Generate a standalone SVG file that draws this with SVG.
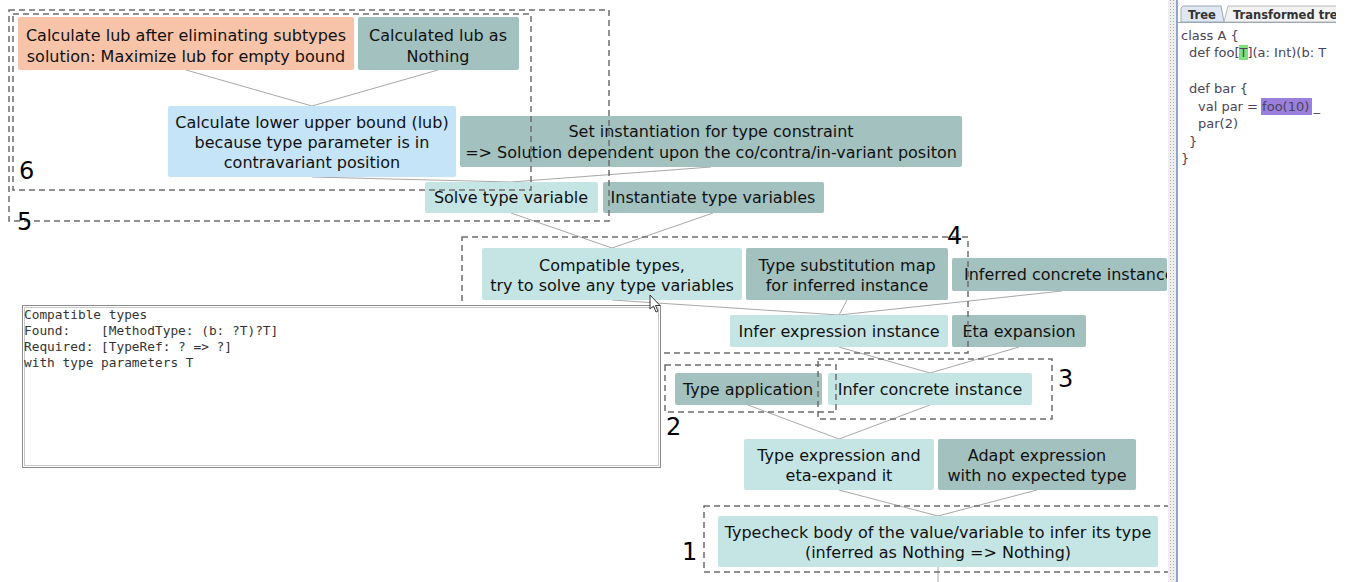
<svg xmlns="http://www.w3.org/2000/svg" width="1347" height="582" viewBox="0 0 1347 582">
  <style>
    .n text { font-family: "DejaVu Sans", Verdana, sans-serif; font-size: 16px; fill: #111; text-anchor: middle; }
    .hi { fill: #A3C1BF; }
    .lt { fill: #C5E5E4; }
    .lb { fill: #C6E4F8; }
    .sa { fill: #F7C4A9; }
    .edge { stroke: #a8a8a8; stroke-width: 1; fill: none; }
    .grp { stroke: #6e6e6e; stroke-width: 1.5; stroke-dasharray: 6 4; fill: none; }
    .num { font-family: "DejaVu Sans", sans-serif; font-size: 24px; fill: #000; }
    .mono { font-family: "DejaVu Sans Mono", "Liberation Mono", monospace; font-size: 12.8px; fill: #333; }
    .code { font-family: "DejaVu Sans", sans-serif; font-size: 13px; fill: #4a4458; }
  </style>
  <defs>
    <clipPath id="treeClip"><rect x="0" y="0" width="1167" height="582"/></clipPath>
    <clipPath id="panelClip"><rect x="1168" y="0" width="168" height="582"/></clipPath>
  </defs>

  <rect width="1347" height="582" fill="#ffffff"/>

  <!-- connectors: child bottom-centre to parent top-centre -->
  <g id="connectors">
    <path class="edge" d="M186 70 L312 106 M438 70 L312 106"/>
    <path class="edge" d="M312 177 L511 182 M711 167 L511 182"/>
    <path class="edge" d="M511 213 L612 248 M713 213 L612 248"/>
    <path class="edge" d="M612 300 L839 315 M847 300 L839 315 M1062 291 L839 315"/>
    <path class="edge" d="M839 347 L930 373 M1019 347 L930 373"/>
    <path class="edge" d="M748 405 L839 439 M930 405 L839 439"/>
    <path class="edge" d="M839 490 L938 516 M1037 490 L938 516"/>
    <path class="edge" d="M938 567 L938 582"/>
  </g>

  <g clip-path="url(#treeClip)">
    <g id="n-lub-elim" class="n">
      <rect class="sa" x="18" y="17" width="336" height="53" rx="2"/>
      <text x="186" y="41">Calculate lub after eliminating subtypes</text>
      <text x="186" y="62">solution: Maximize lub for empty bound</text>
    </g>
    <g id="n-lub-nothing" class="n">
      <rect class="hi" x="358" y="17" width="161" height="53" rx="2"/>
      <text x="438" y="41">Calculated lub as</text>
      <text x="438" y="62">Nothing</text>
    </g>
    <g id="n-lub" class="n">
      <rect class="lb" x="168" y="106" width="288" height="71" rx="2"/>
      <text x="312" y="128">Calculate lower upper bound (lub)</text>
      <text x="312" y="148">because type parameter is in</text>
      <text x="312" y="168">contravariant position</text>
    </g>
    <g id="n-set-inst" class="n">
      <rect class="hi" x="460" y="116" width="502" height="51" rx="2"/>
      <text x="711" y="137">Set instantiation for type constraint</text>
      <text x="711" y="158"> =&gt; Solution dependent upon the co/contra/in-variant positon</text>
    </g>
    <g id="n-solve" class="n">
      <rect class="lt" x="425" y="182" width="173" height="31" rx="2"/>
      <text x="511" y="203">Solve type variable</text>
    </g>
    <g id="n-instantiate" class="n">
      <rect class="hi" x="603" y="182" width="221" height="31" rx="2"/>
      <text x="713" y="203">Instantiate type variables</text>
    </g>
    <g id="n-compatible" class="n">
      <rect class="lt" x="482" y="248" width="260" height="52" rx="2"/>
      <text x="612" y="271">Compatible types,</text>
      <text x="612" y="291">try to solve any type variables</text>
    </g>
    <g id="n-subst" class="n">
      <rect class="hi" x="746" y="248" width="202" height="52" rx="2"/>
      <text x="847" y="271">Type substitution map</text>
      <text x="847" y="291">for inferred instance</text>
    </g>
    <g id="n-inferred-concrete" class="n">
      <rect class="hi" x="952" y="258" width="215" height="33" rx="2"/>
      <text x="964" y="280" style="text-anchor:start">Inferred concrete instance</text>
    </g>
    <g id="n-infer-expr" class="n">
      <rect class="lt" x="730" y="315" width="218" height="32" rx="2"/>
      <text x="839" y="337">Infer expression instance</text>
    </g>
    <g id="n-eta" class="n">
      <rect class="hi" x="952" y="315" width="134" height="32" rx="2"/>
      <text x="1019" y="337">Eta expansion</text>
    </g>
    <g id="n-type-app" class="n">
      <rect class="hi" x="675" y="373" width="147" height="32" rx="2"/>
      <text x="748" y="395">Type application</text>
    </g>
    <g id="n-infer-concrete" class="n">
      <rect class="lt" x="828" y="373" width="204" height="32" rx="2"/>
      <text x="930" y="395">Infer concrete instance</text>
    </g>
    <g id="n-type-expr" class="n">
      <rect class="lt" x="744" y="439" width="190" height="51" rx="2"/>
      <text x="839" y="461">Type expression and</text>
      <text x="839" y="481">eta-expand it</text>
    </g>
    <g id="n-adapt" class="n">
      <rect class="hi" x="938" y="439" width="198" height="51" rx="2"/>
      <text x="1037" y="461">Adapt expression</text>
      <text x="1037" y="481">with no expected type</text>
    </g>
    <g id="n-typecheck" class="n">
      <rect class="lt" x="718" y="516" width="440" height="51" rx="2"/>
      <text x="938" y="538">Typecheck body of the value/variable to infer its type</text>
      <text x="938" y="558">(inferred as Nothing =&gt; Nothing)</text>
    </g>
  </g>

  <!-- numbered phase outlines -->
  <g id="phases">
    <rect class="grp" x="9" y="10" width="600" height="211"/>
    <rect class="grp" x="13" y="14" width="518" height="176"/>
    <rect class="grp" x="462" y="237" width="506" height="116"/>
    <rect class="grp" x="818" y="359" width="234" height="60"/>
    <rect class="grp" x="665" y="365" width="171" height="47"/>
    <rect class="grp" x="704" y="506" width="470" height="66"/>
    <text class="num" x="19" y="179">6</text>
    <text class="num" x="17" y="230">5</text>
    <text class="num" x="947" y="244">4</text>
    <text class="num" x="1058" y="387">3</text>
    <text class="num" x="666" y="435">2</text>
    <text class="num" x="682" y="560">1</text>
  </g>

  <!-- message panel -->
  <g id="message">
    <rect x="22.5" y="305.5" width="638" height="162" fill="#fff" stroke="#8a8a8a" stroke-width="1"/>
    <rect x="24.5" y="307.5" width="634" height="158" fill="none" stroke="#c8c8c8" stroke-width="1"/>
    <text class="mono" x="24" y="319">Compatible types</text>
    <text class="mono" x="24" y="335" xml:space="preserve">Found:    [MethodType: (b: ?T)?T]</text>
    <text class="mono" x="24" y="351">Required: [TypeRef: ? =&gt; ?]</text>
    <text class="mono" x="24" y="367">with type parameters T</text>
  </g>

  <!-- pointer -->
  <path d="M650 295 L650 309 L653.5 306 L656 312 L658 311 L655.5 305.5 L660 305.5 Z" fill="#fff" stroke="#333" stroke-width="1"/>

  <!-- source panel -->
  <g id="source-panel" clip-path="url(#panelClip)">
    <rect x="1168" y="0" width="179" height="582" fill="#ffffff"/>
    <rect x="1168" y="0" width="8" height="582" fill="#eeeeee"/>
    <line x1="1170.5" y1="0" x2="1170.5" y2="582" stroke="#b0b0b0" stroke-dasharray="1 2"/>
    <line x1="1173.5" y1="0" x2="1173.5" y2="582" stroke="#b0b0b0" stroke-dasharray="1 2"/>
    <rect x="1176" y="0" width="2" height="582" fill="#8fa6cc"/>
    <path d="M1181 22 L1181 8 L1183 6 L1221 6 L1224 22 Z" fill="#dfe8f2" stroke="#9aa8b8"/>
    <path d="M1224 22 L1228 6 L1347 6 L1347 22 Z" fill="#f2f2f2" stroke="#b8b8b8"/>
    <text x="1188" y="19" style="font-family:'DejaVu Sans',sans-serif;font-size:11.5px;font-weight:bold;fill:#333">Tree</text>
    <text x="1233" y="19" style="font-family:'DejaVu Sans',sans-serif;font-size:11.5px;font-weight:bold;fill:#333">Transformed tree</text>
    <line x1="1178" y1="22.5" x2="1347" y2="22.5" stroke="#9aa8b8"/>
    <rect x="1239" y="45" width="9" height="15" fill="#7fe07f"/>
    <rect x="1261" y="98" width="51" height="17" fill="#9b7fdc"/>
    <text class="code" x="1181" y="40">class A {</text>
    <text class="code" x="1189" y="57">def foo[T](a: Int)(b: T</text>
    <text class="code" x="1189" y="93">def bar {</text>
    <text class="code" x="1198" y="111">val par = foo(10) _</text>
    <text class="code" x="1198" y="128">par(2)</text>
    <text class="code" x="1189" y="146">}</text>
    <text class="code" x="1181" y="163">}</text>
  </g>
</svg>
